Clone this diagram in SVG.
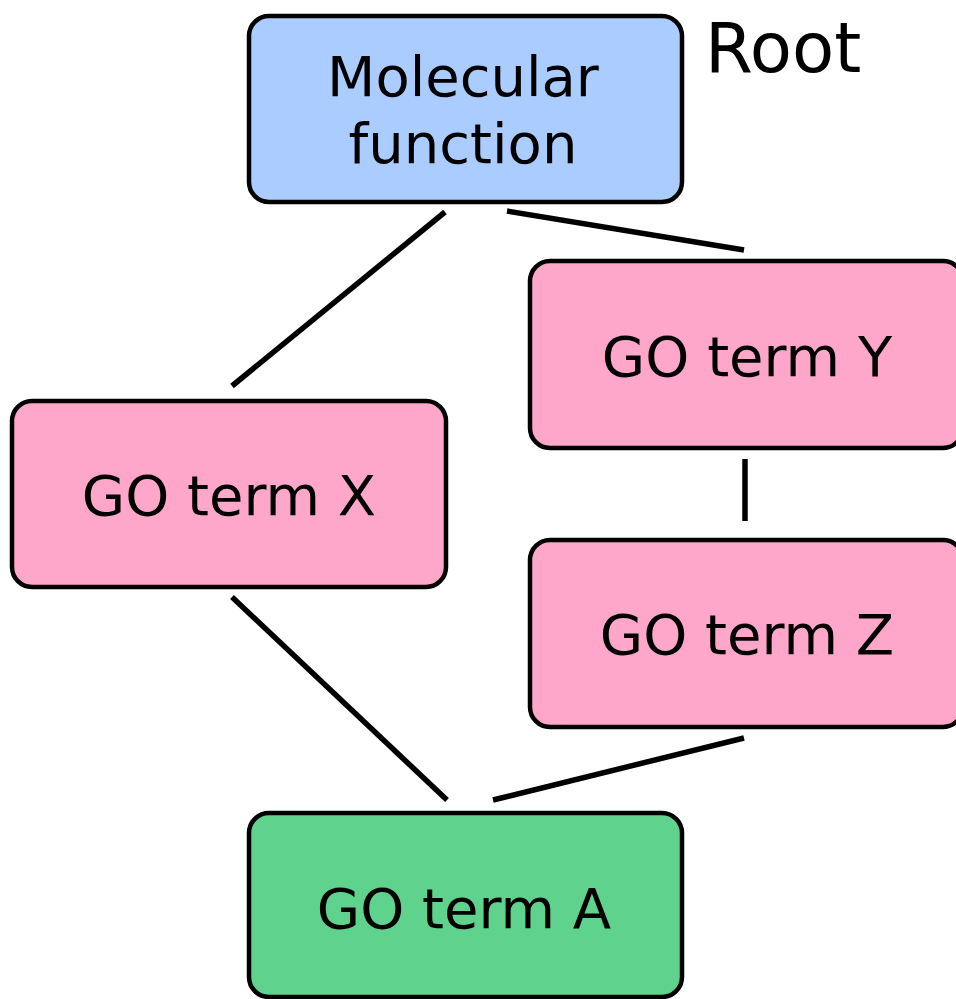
<svg xmlns="http://www.w3.org/2000/svg" width="956" height="999" viewBox="0 0 956 999">
<style>
.box{stroke:#000;stroke-width:4.5}
.mf{fill:#aaccff}
.go{fill:#ffa7cb}
.a{fill:#5fd38d}
.t{font-family:"DejaVu Sans",sans-serif;font-size:56px;fill:#000;text-anchor:middle}
.root{font-family:"DejaVu Sans",sans-serif;font-size:69px;fill:#000}
.edge{stroke:#000;stroke-width:5.5;fill:none}
</style>
<rect width="956" height="999" fill="#fff"/>
<g id="connectors">
<line class="edge" x1="445" y1="212" x2="232" y2="386"/>
<line class="edge" x1="507" y1="211" x2="744" y2="250"/>
<line class="edge" x1="745" y1="459" x2="745" y2="521"/>
<line class="edge" x1="232" y1="597" x2="447" y2="800"/>
<line class="edge" x1="744" y1="738" x2="493" y2="800"/>
</g>
<g id="molecular-function">
<rect class="box mf" x="249" y="16" width="433" height="186" rx="20"/>
<text class="t" x="463" y="96">Molecular</text>
<text class="t" x="463" y="163">function</text>
</g>
<g id="root-label">
<text class="root" x="705" y="72">Root</text>
</g>
<g id="go-term-y">
<rect class="box go" x="530" y="261" width="433" height="187" rx="20"/>
<text class="t" x="747" y="376">GO term Y</text>
</g>
<g id="go-term-x">
<rect class="box go" x="12" y="401" width="434" height="186" rx="20"/>
<text class="t" x="229" y="515">GO term X</text>
</g>
<g id="go-term-z">
<rect class="box go" x="530" y="540" width="433" height="187" rx="20"/>
<text class="t" x="747" y="654">GO term Z</text>
</g>
<g id="go-term-a">
<rect class="box a" x="249" y="813" width="433" height="184" rx="20"/>
<text class="t" x="464" y="928">GO term A</text>
</g>
</svg>
